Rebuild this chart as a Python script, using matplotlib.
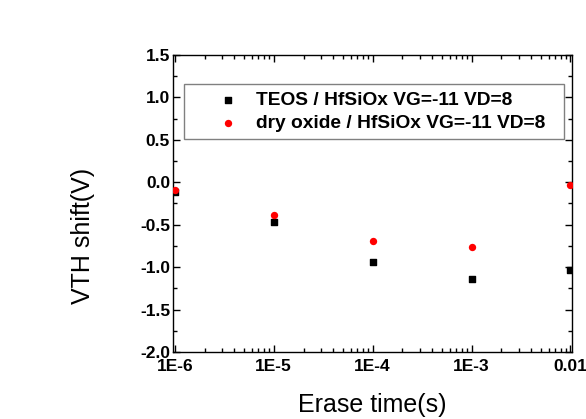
import matplotlib
matplotlib.use("Agg")
import matplotlib.pyplot as plt
from matplotlib.ticker import LogLocator, MultipleLocator, FixedLocator, FixedFormatter

# data
erase_time = [1e-6, 1e-5, 1e-4, 1e-3, 1e-2]
teos_shift = [-0.11, -0.47, -0.94, -1.14, -1.04]
dry_shift = [-0.09, -0.39, -0.69, -0.76, -0.035]
xtick_vals = [1e-6, 1e-5, 1e-4, 1e-3, 1e-2]
xtick_text = ["1E-6", "1E-5", "1E-4", "1E-3", "0.01"]

plt.rcParams['font.family'] = ['Liberation Sans', 'DejaVu Sans']

fig = plt.figure(figsize=(5.86, 4.19), dpi=100)
ax = fig.add_axes([0.295, 0.160, 0.681, 0.709])

ax.scatter(erase_time, teos_shift, marker='s', s=24, color='black', label='TEOS / HfSiOx VG=-11 VD=8', zorder=3)
ax.scatter(erase_time, dry_shift, marker='o', s=28, color='red', linewidths=0, label='dry oxide / HfSiOx VG=-11 VD=8  ', zorder=3)

ax.set_xscale('log')
ax.set_xlim(10**-6.02, 10**-1.985)
ax.set_ylim(-2.0, 1.5)

ax.xaxis.set_major_locator(FixedLocator(xtick_vals))
ax.xaxis.set_major_formatter(FixedFormatter(xtick_text))
ax.xaxis.set_minor_locator(LogLocator(base=10, subs=range(2, 10)))
ax.yaxis.set_major_locator(MultipleLocator(0.5))
ax.yaxis.set_minor_locator(MultipleLocator(0.25))
ax.yaxis.set_major_formatter(matplotlib.ticker.FormatStrFormatter('%.1f'))

ax.tick_params(which='both', direction='in', top=True, right=True, width=1)
ax.tick_params(which='major', length=5, labelsize=12.5)
ax.tick_params(axis='x', which='major', pad=5)
ax.tick_params(axis='y', which='major', pad=2)
ax.tick_params(which='minor', length=3)
for lab in ax.get_xticklabels() + ax.get_yticklabels():
    lab.set_fontweight('bold')
for sp in ax.spines.values():
    sp.set_linewidth(1)

ax.set_xlabel('Erase time(s)', fontsize=18, labelpad=14)
ax.set_ylabel('VTH shift(V)', fontsize=18)
ax.yaxis.set_label_coords(-0.195, 0.39)

leg = ax.legend(loc='upper left', bbox_to_anchor=(0.028, 0.902), fancybox=False,
                edgecolor='gray', framealpha=1, prop={'weight': 'bold', 'size': 13.8},
                handletextpad=-0.4, borderpad=0.38, labelspacing=0.3, handlelength=3.8,
                markerscale=1.0, borderaxespad=0)
leg.get_frame().set_linewidth(1)

plt.savefig("out.png", dpi=100)
